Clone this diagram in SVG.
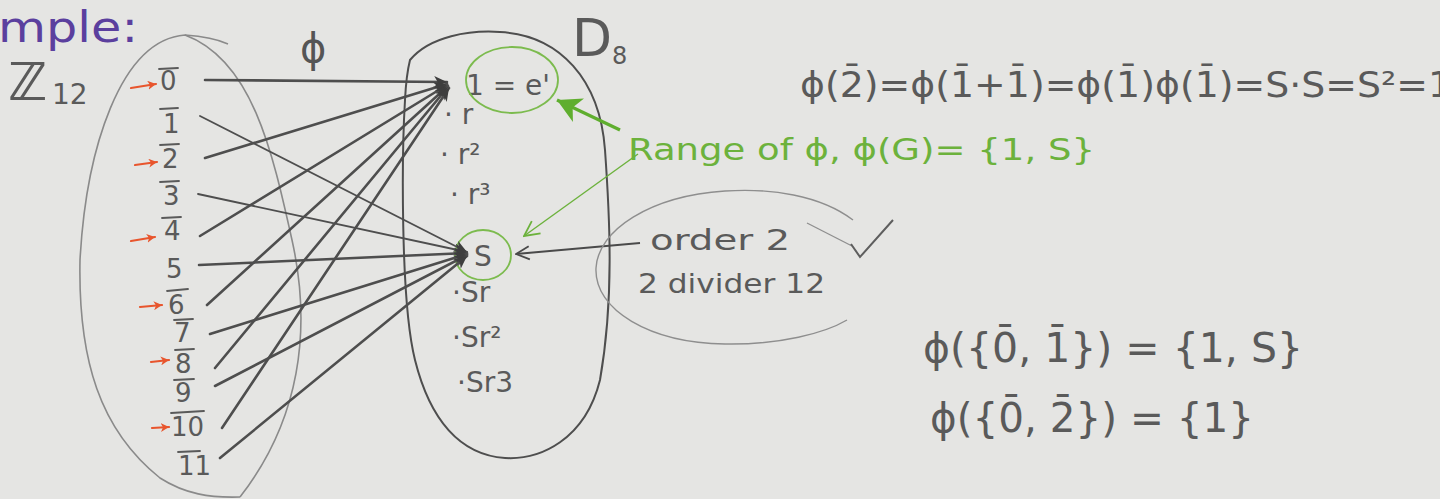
<svg xmlns="http://www.w3.org/2000/svg" width="1440" height="499" viewBox="0 0 1440 499">
<defs>
<style>
.t{font-family:"DejaVu Sans","Liberation Sans",sans-serif;fill:#5a5a5a}
.g{font-family:"DejaVu Sans","Liberation Sans",sans-serif;fill:#6cb23c}
.e{stroke:#4e4e4e;stroke-width:2.6;fill:none;stroke-linecap:round}
.red{stroke:#e8552d;stroke-width:2.2;fill:none;stroke-linecap:round}
.bar{stroke:#5a5a5a;stroke-width:1.8;stroke-linecap:round}
</style>
<marker id="ah" viewBox="0 0 12 12" refX="11" refY="6" markerWidth="14" markerHeight="14" markerUnits="userSpaceOnUse" orient="auto">
<path d="M0,1 L11,6 L0,11 L3,6 Z" fill="#3e3e3e"/>
</marker>
<marker id="ao" viewBox="0 0 12 12" refX="11" refY="6" markerWidth="16" markerHeight="16" markerUnits="userSpaceOnUse" orient="auto">
<path d="M1,1 L11,6 L1,11" fill="none" stroke="#4a4a4a" stroke-width="1.4"/>
</marker>
<marker id="agT" viewBox="0 0 12 12" refX="11" refY="6" markerWidth="26" markerHeight="26" markerUnits="userSpaceOnUse" orient="auto">
<path d="M0,0 L11,6 L0,12 L3,6 Z" fill="#5fae2e"/>
</marker>
<marker id="ag" viewBox="0 0 12 12" refX="11" refY="6" markerWidth="18" markerHeight="18" markerUnits="userSpaceOnUse" orient="auto">
<path d="M1,1 L11,6 L1,11" fill="none" stroke="#6cb23c" stroke-width="1.2"/>
</marker>
<marker id="ar" viewBox="0 0 12 12" refX="11" refY="6" markerWidth="9" markerHeight="9" markerUnits="userSpaceOnUse" orient="auto">
<path d="M0,0 L11,6 L0,12 L3,6 Z" fill="#e8552d"/>
</marker>
</defs>
<rect x="0" y="0" width="1440" height="499" fill="#e5e5e3"/>

<text x="-2" y="42" font-family="DejaVu Sans, sans-serif" font-size="42" fill="#5b3f9e" textLength="140" lengthAdjust="spacingAndGlyphs">mple:</text>

<g id="z12">
<path d="M240,497 C300,420 312,330 292,240 C272,150 252,60 185,35 C120,40 86,150 80,260 C78,360 100,430 160,478 C185,494 210,498 240,497" fill="none" stroke="#8a8a8a" stroke-width="1.6"/>
<path d="M185,35 C200,36 215,38 228,44" fill="none" stroke="#8a8a8a" stroke-width="1.4"/>
<text class="t" x="8" y="100" font-size="52" fill="#4a4a4a" font-weight="bold">ℤ</text>
<text class="t" x="52" y="104" font-size="28">12</text>
</g>

<g id="z12-elements" class="t" font-size="26">
<text x="160" y="90">0</text>
<text x="163" y="133">1</text>
<text x="162" y="168">2</text>
<text x="163" y="205">3</text>
<text x="164" y="240">4</text>
<text x="166" y="278">5</text>
<text x="168" y="314">6</text>
<text x="174" y="342">7</text>
<text x="175" y="373">8</text>
<text x="175" y="402">9</text>
<text x="171" y="436">10</text>
<text x="178" y="475">11</text>
<line class="bar" x1="159" y1="69" x2="178" y2="68"/>
<line class="bar" x1="160" y1="109" x2="178" y2="108"/>
<line class="bar" x1="160" y1="145" x2="179" y2="144"/>
<line class="bar" x1="160" y1="182" x2="179" y2="181"/>
<line class="bar" x1="162" y1="218" x2="181" y2="217"/>
<line class="bar" x1="167" y1="291" x2="188" y2="289"/>
<line class="bar" x1="174" y1="320" x2="193" y2="319"/>
<line class="bar" x1="175" y1="350" x2="194" y2="349"/>
<line class="bar" x1="174" y1="380" x2="194" y2="379"/>
<line class="bar" x1="171" y1="413" x2="204" y2="411"/>
<line class="bar" x1="178" y1="452" x2="200" y2="451"/>
</g>

<g id="red-arrows">
<line class="red" x1="131" y1="88" x2="156" y2="84" marker-end="url(#ar)"/>
<line class="red" x1="135" y1="165" x2="157" y2="162" marker-end="url(#ar)"/>
<line class="red" x1="131" y1="241" x2="155" y2="237" marker-end="url(#ar)"/>
<line class="red" x1="140" y1="307" x2="162" y2="305" marker-end="url(#ar)"/>
<line class="red" x1="151" y1="362" x2="169" y2="360" marker-end="url(#ar)"/>
<line class="red" x1="152" y1="428" x2="169" y2="427" marker-end="url(#ar)"/>
</g>

<text x="300" y="62" font-family="DejaVu Sans, sans-serif" font-size="40" fill="#555">ϕ</text>

<g id="d8">
<path d="M410,60 C430,36 470,30 500,32 C560,35 600,80 605,150 C610,220 614,300 600,380 C585,440 540,460 505,458 C460,455 430,420 415,360 C400,300 402,150 405,100 C406,80 408,68 410,60 Z" fill="none" stroke="#4e4e4e" stroke-width="2"/>
<text class="t" x="572" y="56" font-size="52" fill="#4e4e4e">D</text>
<text class="t" x="612" y="64" font-size="24" fill="#4e4e4e">8</text>
</g>

<g id="d8-elements" class="t" font-size="28">
<text x="466" y="95">1 = e'</text>
<text x="444" y="124">· r</text>
<text x="440" y="164">· r²</text>
<text x="450" y="204">· r³</text>
<text x="474" y="266">S</text>
<text x="452" y="302">·Sr</text>
<text x="452" y="347">·Sr²</text>
<text x="457" y="392">·Sr3</text>
<ellipse cx="512" cy="80" rx="46" ry="33" fill="none" stroke="#7cbb4e" stroke-width="1.8"/>
<ellipse cx="483" cy="255" rx="28" ry="25" fill="none" stroke="#7cbb4e" stroke-width="1.8"/>
</g>

<g id="connectors">
<g class="e" marker-end="url(#ah)">
<line x1="205" y1="80" x2="447" y2="82"/>
<line x1="205" y1="158" x2="447" y2="84"/>
<line x1="200" y1="236" x2="447" y2="85"/>
<line x1="207" y1="305" x2="448" y2="86"/>
<line x1="215" y1="368" x2="448" y2="87"/>
<line x1="222" y1="428" x2="449" y2="88"/>
<line x1="200" y1="116" x2="467" y2="252" stroke-width="1.8"/>
<line x1="198" y1="194" x2="467" y2="252" stroke-width="1.8"/>
<line x1="199" y1="265" x2="467" y2="253"/>
<line x1="210" y1="334" x2="467" y2="254"/>
<line x1="215" y1="386" x2="467" y2="255"/>
<line x1="220" y1="458" x2="467" y2="256"/>
</g>
<line x1="640" y1="243" x2="516" y2="254" stroke="#4a4a4a" stroke-width="1.8" marker-end="url(#ao)"/>
<line x1="620" y1="130" x2="557" y2="100" stroke="#5fae2e" stroke-width="3.2" marker-end="url(#agT)"/>
<line x1="638" y1="154" x2="524" y2="236" stroke="#6cb23c" stroke-width="1.4" marker-end="url(#ag)"/>
</g>

<text class="g" x="628" y="160" font-size="30" textLength="467" lengthAdjust="spacingAndGlyphs">Range of ϕ, ϕ(G)= {1, S}</text>

<g id="order-note">
<path d="M853,220 C820,195 770,188 725,191 C650,196 598,230 596,268 C594,310 650,343 725,344 C780,345 825,333 847,320" fill="none" stroke="#8e8e8e" stroke-width="1.4"/>
<path d="M807,223 L852,246" fill="none" stroke="#8e8e8e" stroke-width="1.3"/>
<path d="M851,244 L860,257 L893,220" fill="none" stroke="#5e5e5e" stroke-width="2"/>
<text class="t" x="650" y="250" font-size="28" textLength="140" lengthAdjust="spacingAndGlyphs">order 2</text>
<text class="t" x="638" y="293" font-size="26" textLength="187" lengthAdjust="spacingAndGlyphs">2 divider 12</text>
</g>

<text class="t" x="800" y="97" font-size="36" textLength="652" lengthAdjust="spacingAndGlyphs">ϕ(2̄)=ϕ(1̄+1̄)=ϕ(1̄)ϕ(1̄)=S·S=S²=1</text>
<text class="t" x="923" y="362" font-size="40" textLength="380" lengthAdjust="spacingAndGlyphs">ϕ({0̄, 1̄}) = {1, S}</text>
<text class="t" x="930" y="432" font-size="40" textLength="324" lengthAdjust="spacingAndGlyphs">ϕ({0̄, 2̄}) = {1}</text>
</svg>
